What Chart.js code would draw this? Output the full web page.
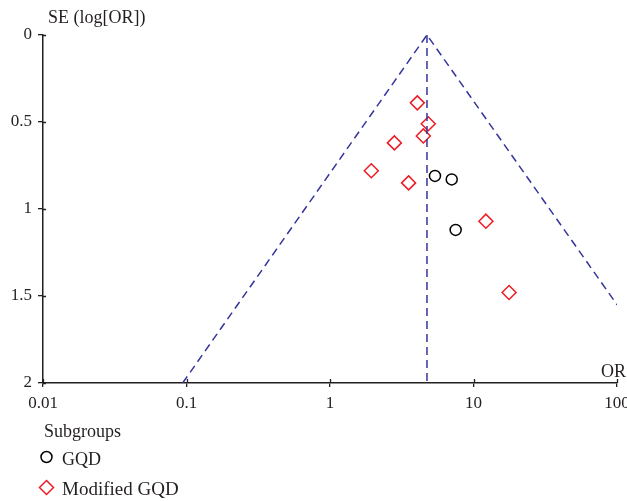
<!DOCTYPE html>
<html><head><meta charset="utf-8">
<script src="https://cdn.jsdelivr.net/npm/chart.js@4/dist/chart.umd.min.js"></script>
<style>html,body{margin:0;padding:0;background:#fff;}#wrap{width:627px;height:501px;position:relative;}</style>
</head><body><div id="wrap"><canvas id="c" width="627" height="501"></canvas></div>
<script>
const orGQD = [5.39, 7.05, 7.51];
const seGQD = [0.81, 0.83, 1.12];
const orModified = [4.06, 4.84, 4.47, 2.81, 1.94, 3.53, 12.2, 17.7];
const seModified = [0.39, 0.51, 0.58, 0.62, 0.78, 0.85, 1.07, 1.48];
const pooledOR = 4.74;
const funnelOR = [0.094, 4.74, 100];
const funnelSE = [2, 0, 1.55];
const pooledLineSE = [0, 2];
const xTicks = [0.01, 0.1, 1, 10, 100];
const yTicks = [0, 0.5, 1, 1.5, 2];
const seriesNames = ['GQD', 'Modified GQD'];
const legendTitle = 'Subgroups';
const yTitle = 'SE (log[OR])';
const xTitle = 'OR';

const FONT = '"Liberation Serif", "DejaVu Serif", serif';
const TXT = '#231f20';
const BLUE = '#34359a';
const RED = '#ed1c24';

const pts = (xs, ys) => xs.map((x, i) => ({x: x, y: ys[i]}));

const extras = {
  id: 'extras',
  afterDraw(chart) {
    const ctx = chart.ctx, a = chart.chartArea;
    const xs = chart.scales.x, ys = chart.scales.y;
    ctx.save();
    ctx.strokeStyle = TXT; ctx.lineWidth = 1.3;
    ctx.beginPath();
    xTicks.forEach(v => { const px = Math.round(xs.getPixelForValue(v)) + 0.5; ctx.moveTo(px, a.bottom); ctx.lineTo(px, a.bottom - 4); });
    yTicks.forEach(v => { const py = Math.round(ys.getPixelForValue(v)) + 0.5; ctx.moveTo(a.left, py); ctx.lineTo(a.left + 3, py); });
    ctx.stroke();
    ctx.fillStyle = TXT;
    ctx.font = '18px ' + FONT;
    ctx.textBaseline = 'alphabetic';
    ctx.textAlign = 'left';
    ctx.fillText(yTitle, 48, 23);
    ctx.textAlign = 'right';
    ctx.fillText(xTitle, 626, 377);
    ctx.textAlign = 'left';
    ctx.fillText(legendTitle, 44, 437);
    ctx.fillText(seriesNames[0], 62, 465);
    ctx.font = '19px ' + FONT;
    ctx.fillText(seriesNames[1], 62, 495);
    ctx.lineWidth = 1.5;
    ctx.strokeStyle = '#000';
    ctx.beginPath(); ctx.arc(46.5, 457, 5.5, 0, Math.PI * 2); ctx.stroke();
    ctx.strokeStyle = RED;
    ctx.beginPath();
    ctx.moveTo(46.5, 480.5); ctx.lineTo(53.5, 487.5); ctx.lineTo(46.5, 494.5); ctx.lineTo(39.5, 487.5); ctx.closePath();
    ctx.stroke();
    ctx.restore();
  }
};

new Chart(document.getElementById('c'), {
  type: 'scatter',
  data: {
    datasets: [
      { label: 'funnel', data: pts(funnelOR, funnelSE), showLine: true, borderColor: BLUE, borderWidth: 1.5, borderDash: [8, 5], pointRadius: 0, fill: false },
      { label: 'pooled', data: pts([pooledOR, pooledOR], pooledLineSE), showLine: true, borderColor: BLUE, borderWidth: 1.5, borderDash: [8, 5], pointRadius: 0, fill: false },
      { label: seriesNames[0], data: pts(orGQD, seGQD), pointStyle: 'circle', pointRadius: 5.5, borderColor: '#000', borderWidth: 1.5, backgroundColor: 'rgba(0,0,0,0)' },
      { label: seriesNames[1], data: pts(orModified, seModified), pointStyle: 'rectRot', pointRadius: 7, borderColor: RED, borderWidth: 1.5, backgroundColor: 'rgba(0,0,0,0)' }
    ]
  },
  options: {
    responsive: false, animation: false,
    layout: { padding: { top: 35, right: 10, left: 0, bottom: 0 } },
    plugins: { legend: { display: false }, tooltip: { enabled: false }, title: { display: false } },
    scales: {
      x: {
        type: 'logarithmic', min: 0.01, max: 100,
        afterBuildTicks: s => { s.ticks = xTicks.map(v => ({ value: v })); },
        afterFit: s => { s.height = 118; s.paddingLeft = 0; s.paddingRight = 0; },
        ticks: { color: TXT, font: { family: FONT, size: 17 }, padding: 6, maxRotation: 0, autoSkip: false, callback: v => String(v) },
        grid: { display: true, drawOnChartArea: false, tickLength: 4, color: TXT, lineWidth: 1.3 },
        border: { display: true, color: TXT, width: 1.5 }
      },
      y: {
        type: 'linear', min: 0, max: 2, reverse: true,
        afterBuildTicks: s => { s.ticks = yTicks.map(v => ({ value: v })); },
        afterFit: s => { s.width = 43; s.paddingTop = 0; s.paddingBottom = 0; },
        ticks: { color: TXT, font: { family: FONT, size: 17 }, padding: 6, autoSkip: false, callback: v => String(v) },
        grid: { display: true, drawOnChartArea: false, tickLength: 5, color: TXT, lineWidth: 1.3 },
        border: { display: true, color: TXT, width: 1.5 }
      }
    }
  },
  plugins: [extras]
});
</script></body></html>
